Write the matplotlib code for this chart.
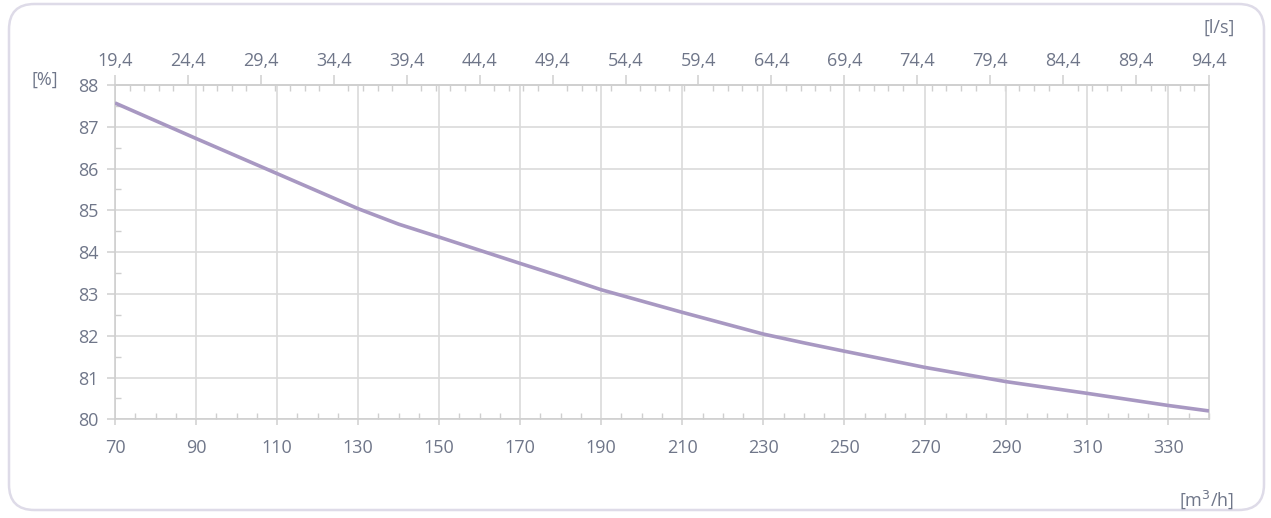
import matplotlib.pyplot as plt
from matplotlib.patches import FancyBboxPatch
from matplotlib.ticker import FixedLocator, MultipleLocator
import numpy as np

# flow [m3/h] and efficiency [%]
flow = [70, 90, 110, 120, 130, 140, 150, 170, 180, 190, 210, 220, 230, 240, 250,
        270, 290, 310, 330, 340]
eff = [87.57, 86.72, 85.88, 85.46, 85.04, 84.67, 84.36, 83.73, 83.42, 83.10,
       82.56, 82.30, 82.04, 81.83, 81.63, 81.24, 80.90, 80.62, 80.33, 80.20]

x_ticks = [70, 90, 110, 130, 150, 170, 190, 210, 230, 250, 270, 290, 310, 330]
y_ticks = [80, 81, 82, 83, 84, 85, 86, 87, 88]

txt = '#6f7689'
grid = '#dadada'
line = '#a898c2'

plt.rcParams['font.family'] = ['Open Sans', 'DejaVu Sans']

fig = plt.figure(figsize=(12.71, 5.18), dpi=100)
ax = fig.add_axes([115 / 1271, 1 - 419.3 / 518, (1209 - 115) / 1271, (419.3 - 85) / 518])

# rounded frame round the whole chart
frame = FancyBboxPatch((9 / 1271, 8 / 518), 1255 / 1271, 506 / 518,
                       boxstyle='round,pad=0,rounding_size=0.02',
                       transform=fig.transFigure, fill=False,
                       ec='#dedbe8', lw=1.8, mutation_aspect=1271 / 518)
fig.patches.append(frame)

ax.plot(flow, eff, color=line, lw=2.6, solid_capstyle='butt', zorder=3)

ax.set_xlim(70, 340)
ax.set_ylim(80, 88)
ax.set_xticks(x_ticks)
ax.set_yticks(y_ticks)
ax.xaxis.set_minor_locator(MultipleLocator(5))
ax.yaxis.set_minor_locator(MultipleLocator(0.5))
ax.grid(True, which='major', color=grid, lw=1.2)
ax.set_axisbelow(True)

for s in ax.spines.values():
    s.set_color('#cfcfcf')
    s.set_linewidth(1.2)

ax.tick_params(which='major', direction='out', length=6, color='#cfcfcf',
               labelsize=13, labelcolor=txt, width=1.1)
ax.tick_params(axis='x', which='major', length=4, pad=10)
ax.tick_params(axis='y', which='major', pad=6)
ax.tick_params(which='minor', direction='in', length=4, color='#cfcfcf', width=1)

# top axis in l/s
top = ax.secondary_xaxis('top', functions=(lambda v: v / 3.6, lambda v: v * 3.6))
ls_major = 70 / 3.6 + np.arange(16) * 5
ls_minor = 70 / 3.6 + np.arange(76)
top.xaxis.set_major_locator(FixedLocator(ls_major))
top.xaxis.set_minor_locator(FixedLocator(ls_minor))
top.set_xticklabels([f'{v:.1f}'.replace('.', ',') for v in ls_major])
top.tick_params(which='major', direction='out', length=7, color='#cfcfcf',
                labelsize=13, labelcolor=txt, width=1.1, pad=4)
top.tick_params(which='minor', direction='in', length=4, color='#cfcfcf', width=1)
top.spines['top'].set_color('#cfcfcf')
top.spines['top'].set_linewidth(1.2)

fig.text(45 / 1271, 1 - 80 / 518, '[%]', color=txt, fontsize=13, ha='center', va='center')
fig.text(1219 / 1271, 1 - 28 / 518, '[l/s]', color=txt, fontsize=13, ha='center', va='center')
fig.text(1207 / 1271, 1 - 500 / 518, '[m$^3$/h]', color=txt, fontsize=13, ha='center', va='center')

fig.savefig('out.png', dpi=100)
